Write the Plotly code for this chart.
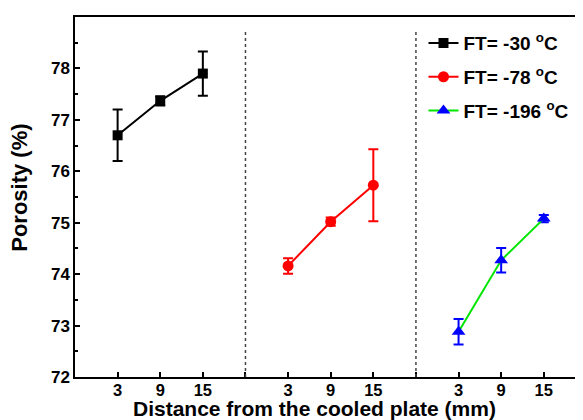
import plotly.graph_objects as go

distances = ["3", "9", "15"]
series_names = ["FT= -30 <sup>o</sup>C", "FT= -78 <sup>o</sup>C", "FT= -196 <sup>o</sup>C"]
porosity_30 = [76.7, 77.37, 77.9]
err_30 = [0.5, 0.09, 0.43]
porosity_78 = [74.16, 75.02, 75.73]
err_78 = [0.15, 0.08, 0.70]
porosity_196 = [72.88, 74.27, 75.08]
err_196 = [0.25, 0.24, 0.07]

# category positions on a shared axis: groups separated by dotted lines
group_x = [[1, 2, 3], [5, 6, 7], [9, 10, 11]]
separators = [4, 8]

line_colors = ["#000000", "#ff0000", "#00e600"]
marker_colors = ["#000000", "#ff0000", "#0000ff"]
symbols = ["square", "circle", "triangle-up"]
sizes = [10, 11, 12]
values = [porosity_30, porosity_78, porosity_196]
errors = [err_30, err_78, err_196]

fig = go.Figure()
for i in range(3):
    fig.add_trace(go.Scatter(
        x=group_x[i], y=values[i], name=series_names[i],
        mode="lines+markers", legendgroup=f"g{i}",
        line=dict(color=line_colors[i], width=2),
        marker=dict(symbol=symbols[i], size=sizes[i], color=marker_colors[i]),
        error_y=dict(type="data", array=errors[i], color=marker_colors[i],
                     thickness=2, width=5),
    ))

for s in separators:
    fig.add_shape(type="line", x0=s, x1=s, y0=72, y1=78.72, xref="x", yref="y",
                  line=dict(color="#444444", width=1.5, dash="dot"))

tickvals = group_x[0] + group_x[1] + group_x[2]
ticktext = distances * 3

font_fam = "Liberation Sans, Arial, sans-serif"
# page body has an 8px default margin, so the figure is sized to fit the window
fig.update_layout(
    width=575, height=412,
    margin=dict(l=67, r=0, t=9, b=43),
    paper_bgcolor="white", plot_bgcolor="white",
    font=dict(family=font_fam, color="black", size=16),
    showlegend=True,
    legend=dict(x=0.686, y=0.98, xanchor="left", yanchor="top",
                bgcolor="rgba(0,0,0,0)", traceorder="grouped", tracegroupgap=6,
                font=dict(size=19, family=font_fam, weight="bold"),
                itemwidth=30),
    xaxis=dict(range=[0, 11.92], tickvals=tickvals, ticktext=ticktext,
               ticks="inside", ticklen=5, tickwidth=1.5, tickcolor="black",
               minor=dict(tickvals=separators, ticks="inside", ticklen=5,
                          tickwidth=1.5, tickcolor="black"),
               showline=True, linecolor="black", linewidth=1.5, mirror=True,
               showgrid=False, zeroline=False, automargin=False,
               ticklabelstandoff=-3,
               tickfont=dict(size=16.5, family=font_fam, weight="bold")),
    yaxis=dict(range=[72, 79], dtick=1, ticks="inside", ticklen=5, tickwidth=1.5,
               tickcolor="black",
               minor=dict(dtick=0.5, ticks="inside", ticklen=3, tickcolor="black"),
               showline=True, linecolor="black", linewidth=1.5,
               showgrid=False, zeroline=False, automargin=False,
               tickfont=dict(size=17, family=font_fam, weight="bold")),
    annotations=[
        dict(text="Distance from the cooled plate (mm)", xref="paper", yref="paper",
             x=0.472, y=-0.087, xanchor="center", yanchor="middle", showarrow=False,
             font=dict(size=21, family=font_fam, weight="bold")),
        dict(text="Porosity (%)", xref="paper", yref="paper", textangle=-90,
             x=-0.108, y=0.526, xanchor="center", yanchor="middle", showarrow=False,
             font=dict(size=22, family=font_fam, weight="bold")),
    ],
)

fig.write_html("out.html")
